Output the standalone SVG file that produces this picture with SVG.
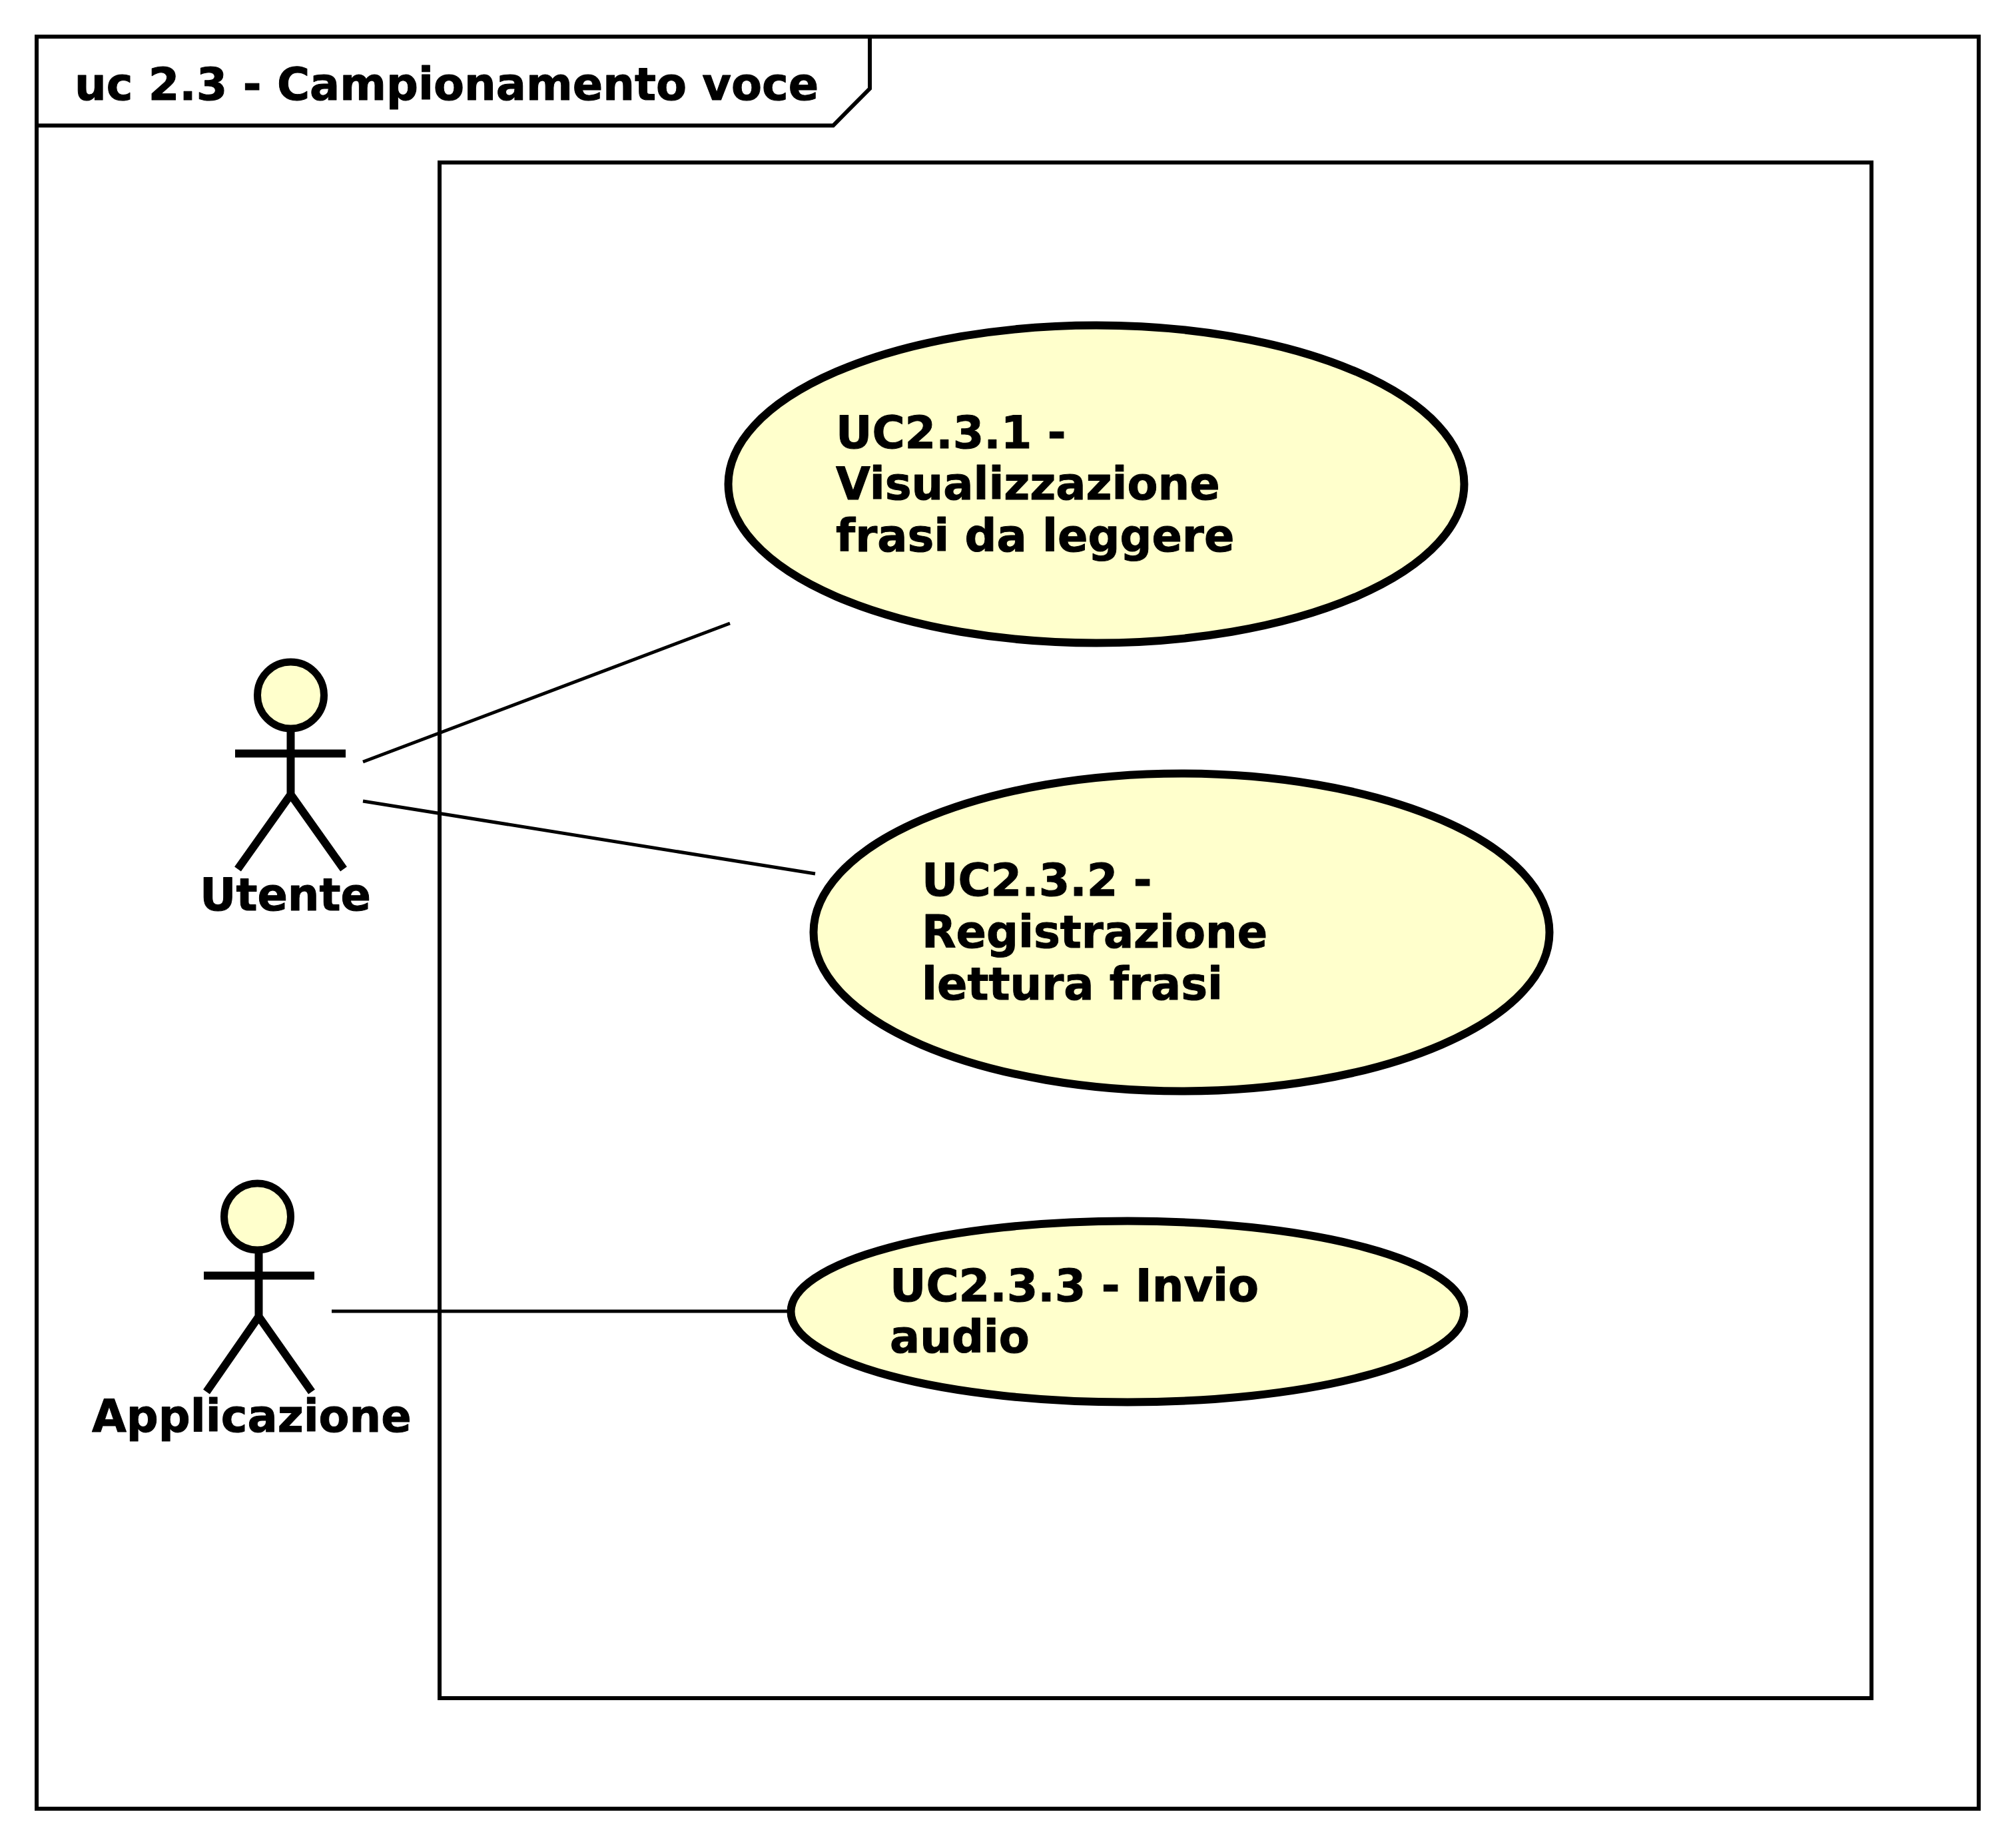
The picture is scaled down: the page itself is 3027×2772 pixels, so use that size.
<svg xmlns="http://www.w3.org/2000/svg" width="3027" height="2772" viewBox="0 0 3027 2772">
<style>
.frame{fill:none;stroke:#000;stroke-width:6}
.conn{fill:none;stroke:#000;stroke-width:5}
.uc{fill:#FFFFCC;stroke:#000;stroke-width:12}
.act{fill:none;stroke:#000;stroke-width:12}
.head{fill:#FFFFCC;stroke:#000;stroke-width:11}
text{font-family:"DejaVu Sans",sans-serif;font-weight:bold;font-size:67px;fill:#000;stroke:#000;stroke-width:1;stroke-linejoin:round}
</style>
<rect width="3027" height="2772" fill="#fff"/>
<g id="frame">
<rect class="frame" x="55" y="55" width="2916" height="2661"/>
<path class="frame" d="M1306 55V133L1251 188.500H55"/>
<text x="112" y="150">uc 2.3 - Campionamento voce</text>
</g>
<g id="system"><rect class="frame" x="660" y="244" width="2150" height="2306"/></g>
<g id="connectors">
<line class="conn" x1="545" y1="1144" x2="1096" y2="936"/>
<line class="conn" x1="545" y1="1203" x2="1224" y2="1312"/>
<line class="conn" x1="498" y1="1969" x2="1185" y2="1969"/>
</g>
<g id="uc231">
<ellipse class="uc" cx="1646" cy="727" rx="552.500" ry="238.500"/>
<text x="1255" y="672.500">UC2.3.1 -</text>
<text x="1255" y="750.300">Visualizzazione</text>
<text x="1255" y="827.800">frasi da leggere</text>
</g>
<g id="uc232">
<ellipse class="uc" cx="1774" cy="1400" rx="552.500" ry="238.500"/>
<text x="1384" y="1344.500">UC2.3.2 -</text>
<text x="1384" y="1422.700">Registrazione</text>
<text x="1384" y="1500.500">lettura frasi</text>
</g>
<g id="uc233">
<ellipse class="uc" cx="1693" cy="1969.500" rx="505.500" ry="136"/>
<text x="1336" y="1954">UC2.3.3 - Invio</text>
<text x="1336" y="2030.700">audio</text>
</g>
<g id="utente">
<circle class="head" cx="436.500" cy="1044" r="50"/>
<path class="act" d="M436.500 1094V1193M353 1131.500H519M436.500 1193L357 1305M436.500 1193L516 1305"/>
<text x="300" y="1367">Utente</text>
</g>
<g id="applicazione">
<circle class="head" cx="386.500" cy="1827" r="50"/>
<path class="act" d="M388.500 1877V1977M306 1915.500H472M388.500 1977L310 2090M388.500 1977L468 2090"/>
<text x="138" y="2150">Applicazione</text>
</g>
</svg>
